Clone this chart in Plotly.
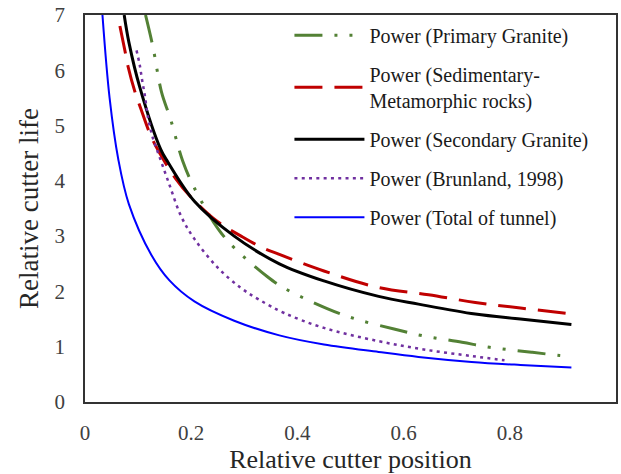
import plotly.graph_objects as go

# Relative cutter life vs. relative cutter position, power-law trend lines
primary_x = [0.114, 0.128, 0.144, 0.161, 0.184, 0.206, 0.25, 0.281, 0.343, 0.375,
             0.456, 0.51, 0.582, 0.635, 0.71, 0.762, 0.841, 0.894, 0.917]
primary_y = [7.0, 6.42, 5.61, 5.12, 4.36, 3.87, 3.14, 2.79, 2.27, 2.06,
             1.69, 1.50, 1.32, 1.20, 1.08, 0.99, 0.90, 0.84, 0.815]

sedim_x = [0.0657, 0.0763, 0.0813, 0.095, 0.105, 0.122, 0.139, 0.17, 0.2, 0.25,
           0.294, 0.334, 0.366, 0.45, 0.553, 0.647, 0.735, 0.82, 0.916]
sedim_y = [6.80, 6.30, 6.06, 5.58, 5.31, 4.86, 4.53, 4.05, 3.70, 3.26,
           3.00, 2.79, 2.67, 2.37, 2.07, 1.94, 1.80, 1.70, 1.595]

second_x = [0.0738, 0.0826, 0.103, 0.1426, 0.156, 0.206, 0.281, 0.366, 0.45,
            0.553, 0.628, 0.735, 0.82, 0.916]
second_y = [7.0, 6.51, 5.70, 4.57, 4.34, 3.63, 3.0, 2.50, 2.19,
            1.91, 1.77, 1.59, 1.50, 1.40]

brun_x = [0.097, 0.103, 0.1076, 0.1126, 0.119, 0.128, 0.139, 0.159, 0.181, 0.206,
          0.25, 0.294, 0.328, 0.375, 0.45, 0.553, 0.638, 0.729, 0.79]
brun_y = [6.36, 6.10, 5.82, 5.55, 5.13, 4.77, 4.47, 3.93, 3.36, 2.95,
          2.43, 2.06, 1.85, 1.61, 1.34, 1.10, 0.95, 0.83, 0.755]

total_x = [0.0325, 0.0463, 0.0625, 0.0826, 0.125, 0.159, 0.206, 0.281,
           0.366, 0.45, 0.553, 0.628, 0.728, 0.82, 0.916]
total_y = [7.05, 5.50, 4.40, 3.58, 2.66, 2.20, 1.82, 1.47,
           1.205, 1.04, 0.905, 0.815, 0.725, 0.67, 0.624]

x_ticks = [0, 0.2, 0.4, 0.6, 0.8, 1]
x_tick_text = ["0", "0.2", "0.4", "0.6", "0.8", "1"]
y_ticks = [0, 1, 2, 3, 4, 5, 6, 7]

series = [
    ("Power (Primary Granite)", primary_x, primary_y, "#538135", 3,
     "28px,12px,3px,12px,3px,12px"),
    ("Power (Sedimentary-<br>Metamorphic rocks)", sedim_x, sedim_y, "#C00000", 3,
     "28px,12px"),
    ("Power (Secondary Granite)", second_x, second_y, "#000000", 3, "solid"),
    ("Power (Brunland, 1998)", brun_x, brun_y, "#7030A0", 2.5, "3px,4.3px"),
    ("Power (Total of tunnel)", total_x, total_y, "#0000FF", 2, "solid"),
]

fig = go.Figure()
for i, (name, xs, ys, color, width, dash) in enumerate(series):
    fig.add_trace(go.Scatter(
        x=xs, y=ys, mode="lines", name=name, legendgroup=f"g{i}",
        line=dict(color=color, width=width, dash=dash, shape="spline", smoothing=1.0),
    ))

serif = "Liberation Serif, Times New Roman, serif"
axis_common = dict(
    showgrid=False, zeroline=False, showline=True, linecolor="#333333",
    linewidth=1.5, mirror=True, ticks="outside", tickcolor="rgba(0,0,0,0)",
    tickfont=dict(family=serif, size=21, color="#404040"),
)

fig.update_layout(
    width=621, height=474,
    margin=dict(l=85, r=3, t=13, b=72),
    paper_bgcolor="white", plot_bgcolor="white",
    font=dict(family=serif, color="#262626"),
    xaxis=dict(range=[0, 1], tickvals=x_ticks, ticktext=x_tick_text, ticklen=11,
               title=dict(text="Relative cutter position",
                          font=dict(family=serif, size=26, color="#262626"),
                          standoff=4),
               **axis_common),
    yaxis=dict(range=[0, 7], tickvals=y_ticks, ticklen=14,
               title=dict(text="Relative cutter life",
                          font=dict(family=serif, size=27, color="#262626"),
                          standoff=8),
               **axis_common),
    legend=dict(x=0.385, y=0.998, xanchor="left", yanchor="top",
                bgcolor="rgba(0,0,0,0)", borderwidth=0,
                font=dict(family=serif, size=20, color="#1a1a1a"),
                itemwidth=70, tracegroupgap=10, traceorder="grouped"),
    showlegend=True,
)

fig.write_html("out.html")
